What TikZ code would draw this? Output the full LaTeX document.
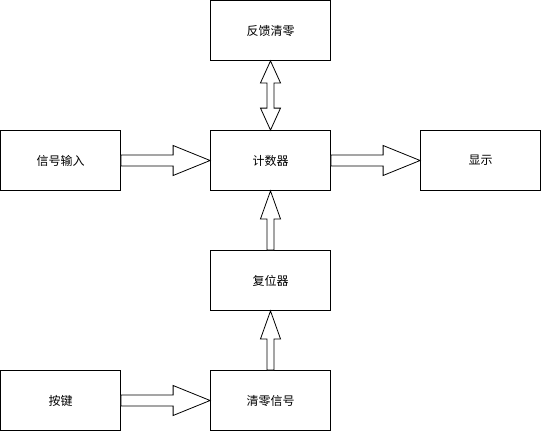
\documentclass[tikz,border=0pt]{standalone}
\usepackage{fontspec}
\newfontfamily\cjk{Noto Sans CJK SC}
\usetikzlibrary{calc}

\tikzset{
  block/.style={draw, thick, minimum width=120pt, minimum height=60pt, inner sep=0pt,
    font=\cjk\fontsize{12}{14}\selectfont},
  hbarrow/.style={draw, fill=white, line width=0.8pt, line join=miter,
    to path={($(\tikztostart)+(0,5.5)$) -- ($(\tikztotarget)+(-37,5.5)$) -- ++(0,9.5)
      -- (\tikztotarget) -- ++(-37,-15) -- ++(0,9.5) -- ($(\tikztostart)+(0,-5.5)$) -- cycle}},
  vbarrow/.style={draw, fill=white, line width=0.8pt, line join=miter,
    to path={($(\tikztostart)+(-3.5,0)$) -- ($(\tikztotarget)+(-3.5,-28)$) -- ++(-6.5,0)
      -- (\tikztotarget) -- ++(10,-28) -- ++(-6.5,0) -- ($(\tikztostart)+(3.5,0)$) -- cycle}},
  dbarrow/.style={draw, fill=white, line width=0.8pt, line join=miter,
    to path={(\tikztostart) -- ++(-10,22) -- ++(6.5,0) -- ($(\tikztotarget)+(-3.5,-22)$)
      -- ++(-6.5,0) -- (\tikztotarget) -- ++(10,-22) -- ++(-6.5,0)
      -- ($(\tikztostart)+(3.5,22)$) -- ++(6.5,0) -- cycle}}
}

\begin{document}
\begin{tikzpicture}[x=1pt,y=1pt]

    \useasboundingbox (-0.5,0.5) rectangle (540.5,-430.5);

    % the boxes
    \node[block] (fb)  at (270,-30)  {反馈清零};
    \node[block] (in)  at (60,-160)  {信号输入};
    \node[block] (cnt) at (270,-160) {计数器};
    \node[block] (dsp) at (480,-160) {显示};
    \node[block] (rst) at (270,-280) {复位器};
    \node[block] (key) at (60,-400)  {按键};
    \node[block] (clr) at (270,-400) {清零信号};

    % the hollow arrows
    \draw[hbarrow] (in.east) to (cnt.west);
    \draw[hbarrow] (cnt.east) to (dsp.west);
    \draw[hbarrow] (key.east) to (clr.west);
    \draw[vbarrow] (rst.north) to (cnt.south);
    \draw[vbarrow] (clr.north) to (rst.south);
    \draw[dbarrow] (cnt.north) to (fb.south);

\end{tikzpicture}
\end{document}
